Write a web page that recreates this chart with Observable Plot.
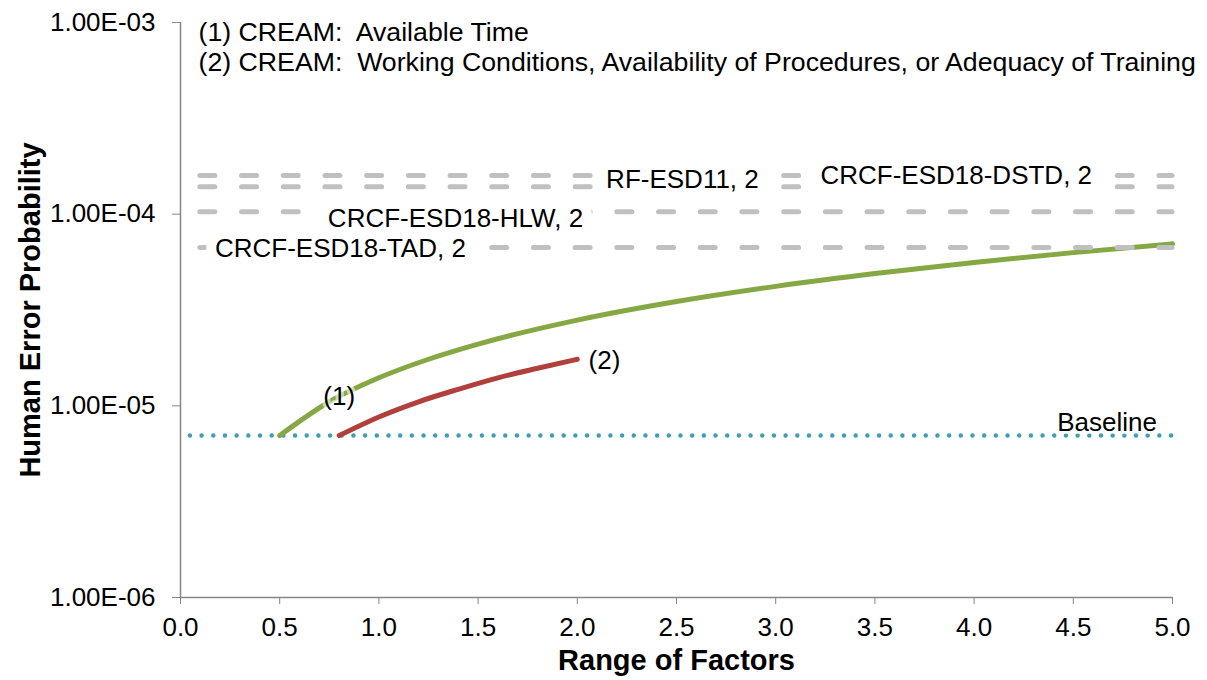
<!DOCTYPE html>
<html><head><meta charset="utf-8">
<script src="https://cdn.jsdelivr.net/npm/d3@7"></script>
<script src="https://cdn.jsdelivr.net/npm/@observablehq/plot@0.6"></script>
<style>
html,body{margin:0;padding:0;background:#fff;}
#chart svg{display:block;}
</style></head><body><div id="chart"></div>
<script>
// Curve (1): CREAM Available Time
const curve1X = [0.5, 0.75, 1.0, 1.25, 1.5, 2.0, 2.5, 3.0, 3.5, 4.0, 4.5, 5.0];
const curve1Y = [7.0e-6, 1.05e-5, 1.4e-5, 1.75e-5, 2.1e-5, 2.8e-5, 3.5e-5, 4.2e-5, 4.9e-5, 5.6e-5, 6.3e-5, 7.0e-5];
// Curve (2): CREAM Working Conditions ...
const curve2X = [0.8, 1.0, 1.2, 1.4, 1.6, 1.8, 2.0];
const curve2Y = [7.0e-6, 8.75e-6, 1.05e-5, 1.22e-5, 1.4e-5, 1.57e-5, 1.75e-5];
// Baseline
const baselineX = [0.05, 5.0];
const baselineValue = 7.0e-6;
// Reference (dashed) lines
const refNames = ["CRCF-ESD18-DSTD, 2", "RF-ESD11, 2", "CRCF-ESD18-HLW, 2", "CRCF-ESD18-TAD, 2"];
const refValues = [1.59e-4, 1.39e-4, 1.03e-4, 6.7e-5];
const refStart = [0.1, 0.1, 0.1, 0.1];
const refEnd = [5.0, 5.0, 5.0, 5.0];
const refLabelX = [3.91, 2.53, 1.386, 0.806];
const refLabelY = [1.59e-4, 1.52e-4, 9.5e-5, 6.6e-5];
// Curve labels
const curveLabels = ["(1)", "(2)", "Baseline"];
const curveLabelX = [0.80, 2.137, 4.67];
const curveLabelY = [1.12e-5, 1.72e-5, 8.2e-6];
const legendLines = ["(1) CREAM:\u00a0 Available Time", "(2) CREAM:\u00a0 Working Conditions, Availability of Procedures, or Adequacy of Training"];
const xTicks = [0, 0.5, 1, 1.5, 2, 2.5, 3, 3.5, 4, 4.5, 5];
const yTicks = [1e-6, 1e-5, 1e-4, 1e-3];
const xTitle = "Range of Factors";
const yTitle = "Human Error Probability";

const c1 = curve1X.map((x, i) => ({x, y: curve1Y[i]}));
const c2 = curve2X.map((x, i) => ({x, y: curve2Y[i]}));
const refs = refNames.map((name, i) => ({name, value: refValues[i], start: refStart[i], end: refEnd[i], lx: refLabelX[i], ly: refLabelY[i]}));
const labs = curveLabels.map((t, i) => ({t, x: curveLabelX[i], y: curveLabelY[i]}));
const base = [{y: baselineValue, x1: baselineX[0], x2: baselineX[1]}];

const fmtE = d => {
  const [m, e] = d.toExponential(2).split("e");
  const n = +e;
  return m + "E" + (n < 0 ? "-" : "+") + String(Math.abs(n)).padStart(2, "0");
};

const FONT = "'Liberation Sans', Arial, Helvetica, sans-serif";
const AX = "#868686";

const chart = Plot.plot({
  width: 1207, height: 680,
  marginLeft: 180, marginRight: 35, marginTop: 22, marginBottom: 83,
  style: {fontFamily: FONT, fontSize: "26px", color: "#000", background: "#fff"},
  x: {domain: [0, 5]},
  y: {type: "log", domain: [1e-6, 1e-3]},
  marks: [
    Plot.ruleY(base, {y: "y", x1: "x1", x2: "x2", stroke: "#3f9db8", strokeWidth: 4.5, strokeDasharray: "0,11.68", strokeLinecap: "round"}),
    Plot.line(c1, {x: "x", y: "y", stroke: "#86a844", strokeWidth: 5, curve: "monotone-x", strokeLinecap: "round"}),
    Plot.line(c2, {x: "x", y: "y", stroke: "#b0403c", strokeWidth: 5, curve: "monotone-x", strokeLinecap: "round"}),
    Plot.ruleY(refs, {y: "value", x1: "start", x2: "end", stroke: "#c0c0c0", strokeWidth: 5, strokeDasharray: "15,26.7", strokeLinecap: "round"}),
    Plot.text(refs, {x: "lx", y: "ly", text: "name", fill: "#000", stroke: "white", strokeWidth: 20, strokeLinejoin: "round", paintOrder: "stroke", fontSize: 26, lineAnchor: "middle"}),
    Plot.text(labs, {x: "x", y: "y", text: "t", fill: "#000", stroke: "white", strokeOpacity: 0.6, strokeWidth: 6, paintOrder: "stroke", fontSize: 26, lineAnchor: "middle"}),
    Plot.ruleX([0], {stroke: AX, strokeWidth: 1.5}),
    Plot.ruleY([1e-6], {stroke: AX, strokeWidth: 1.5}),
    Plot.axisY(yTicks, {tickFormat: fmtE, tickSize: 8, tickPadding: 17, stroke: AX, fill: "#000", label: null, fontSize: 26}),
    Plot.axisX(xTicks, {tickFormat: d3.format(".1f"), tickSize: 7, tickPadding: 13, stroke: AX, fill: "#000", label: null, fontSize: 26}),
    Plot.text([legendLines.join("\n")], {frameAnchor: "top-left", dx: 18, dy: -3, lineAnchor: "top", textAnchor: "start", lineHeight: 1.13, fontSize: 26.7, fill: "#000"}),
    Plot.text([xTitle], {frameAnchor: "bottom", dy: 63, lineAnchor: "middle", textAnchor: "middle", fontWeight: "bold", fontSize: 29, fill: "#000"}),
    Plot.text([yTitle], {frameAnchor: "left", dx: -150, rotate: -90, lineAnchor: "middle", textAnchor: "middle", fontWeight: "bold", fontSize: 29, fill: "#000"})
  ]
});
document.getElementById("chart").appendChild(chart);
</script></body></html>
